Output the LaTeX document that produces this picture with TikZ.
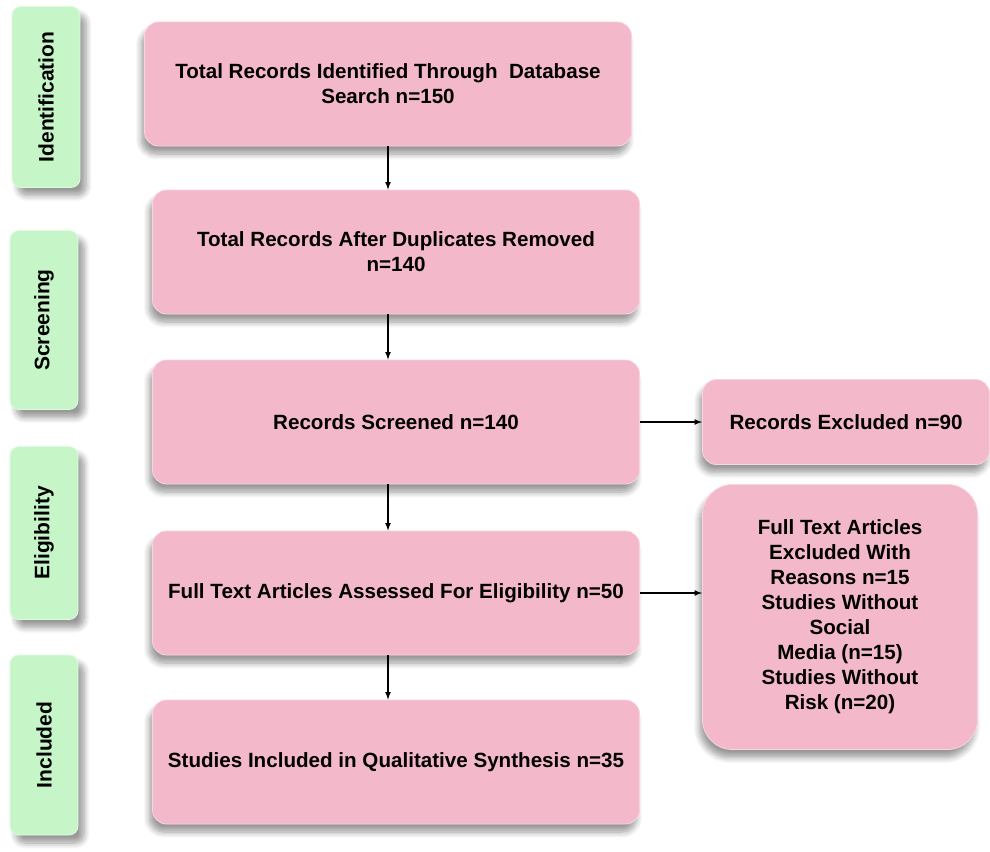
\documentclass[tikz,border=0pt]{standalone}
\usepackage{fontspec}
\setmainfont{Liberation Sans}
\usetikzlibrary{shadows.blur}
\definecolor{pinkbox}{HTML}{F4B8CB}
\definecolor{greenbox}{HTML}{C6F6C8}

\begin{document}
\begin{tikzpicture}[x=1pt, y=-1pt,
  stage/.style={rectangle, rounded corners=14pt, fill=pinkbox, draw=pinkbox!60!white, line width=0.8pt,
    minimum width=487pt, minimum height=124pt, align=center,
    font=\fontsize{20.6}{25}\selectfont\bfseries,
    blur shadow={shadow xshift=-3pt, shadow yshift=-8pt, shadow blur steps=8, shadow blur radius=6pt, shadow opacity=40}},
  phase/.style={rectangle, rounded corners=9pt, fill=greenbox, draw=greenbox!60!white, line width=0.8pt,
    minimum height=68pt, minimum width=#1, rotate=90,
    font=\fontsize{21}{24}\selectfont\bfseries,
    blur shadow={shadow xshift=6pt, shadow yshift=-8pt, shadow blur steps=8, shadow blur radius=6pt, shadow opacity=40}},
  link/.style={-latex, line width=1.6pt}]
  \useasboundingbox (0,0) rectangle (990,851);

  % phase labels
  \node[phase=181pt] (ident) at (46,97) {Identification};
  \node[phase=179pt] (screen) at (44,320) {Screening};
  \node[phase=173pt] (elig) at (44,533) {Eligibility};
  \node[phase=180pt] (incl) at (44,745) {Included};

  % main flow
  \node[stage] (found) at (388,84) {Total Records Identified Through\ \ Database\\Search n=150};
  \node[stage] (dedup) at (396,252) {Total Records After Duplicates Removed\\n=140};
  \node[stage] (screened) at (396,422) {Records Screened n=140};
  \node[stage] (assessed) at (396,593) {Full Text Articles Assessed For Eligibility n=50};
  \node[stage] (synth) at (396,762) {Studies Included in Qualitative Synthesis n=35};

  % exclusions
  \node[stage, minimum width=287pt, minimum height=85pt] (excl) at (846,422) {Records Excluded n=90};
  \node[stage, rounded corners=30pt, minimum width=275pt, minimum height=265pt] (reasons) at (840,617)
    {Full Text Articles\\Excluded With\\Reasons n=15\\Studies Without\\Social\\Media (n=15)\\Studies Without\\Risk (n=20)};

  \draw[link] (found.south) -- (found.south |- dedup.north);
  \draw[link] (found.south |- dedup.south) -- (found.south |- screened.north);
  \draw[link] (found.south |- screened.south) -- (found.south |- assessed.north);
  \draw[link] (found.south |- assessed.south) -- (found.south |- synth.north);
  \draw[link] (screened.east) -- (excl.west);
  \draw[link] (assessed.east) -- (assessed.east -| reasons.west);
\end{tikzpicture}
\end{document}
